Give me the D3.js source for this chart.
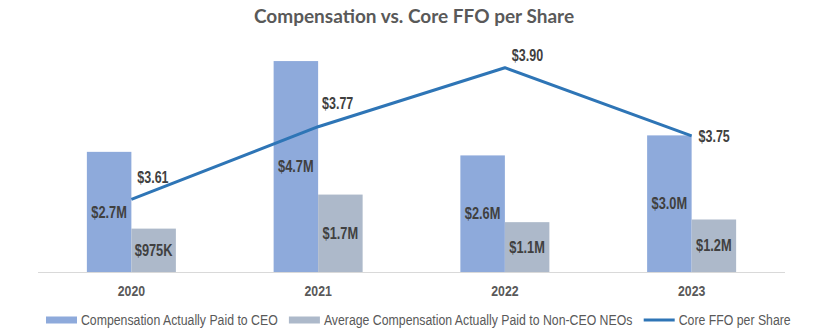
<!DOCTYPE html>
<html>
<head>
<meta charset="utf-8">
<script src="https://cdn.jsdelivr.net/npm/d3@7"></script>
<style>
  body { margin: 0; background: #fff; }
  svg { display: block; }
</style>
</head>
<body>
<svg id="chart" width="817" height="333"></svg>
<script>
// chart values
const years = ["2020", "2021", "2022", "2023"];
const ceoPay = [2.7, 4.74, 2.62, 3.07];          // $M
const ceoLabels = ["$2.7M", "$4.7M", "$2.6M", "$3.0M"];
const neoPay = [0.975, 1.74, 1.12, 1.18];        // $M
const neoLabels = ["$975K", "$1.7M", "$1.1M", "$1.2M"];
const coreFfo = [3.61, 3.77, 3.90, 3.75];
const ffoLabels = ["$3.61", "$3.77", "$3.90", "$3.75"];
const seriesNames = ["Compensation Actually Paid to CEO",
                     "Average Compensation Actually Paid to Non-CEO NEOs",
                     "Core FFO per Share"];

const svg = d3.select("#chart");
const font = "'Liberation Sans', Arial, sans-serif";
const ceoColor = "#8eaadb", neoColor = "#adb9ca", lineColor = "#2e75b6";
const textColor = "#595959", labelColor = "#404040";

// squeeze Liberation Sans horizontally into a narrow face, like the original
function narrow(sel, k = 0.82) {
    sel.each(function() {
        let t = d3.select(this);
        let x = +t.attr("x") || 0, y = +t.attr("y") || 0;
        t.attr("transform", "translate(" + x + "," + y + ") scale(" + k + ",1) translate(" + (-x) + "," + (-y) + ")");
    });
}

let left = 38, right = 785, bottom = 272;

// scales
let x0 = d3.scaleBand().domain(years).range([left, right])
           .paddingInner(0.5234).paddingOuter(0.2617);
let x1 = d3.scaleBand().domain(["ceo", "neo"]).range([0, x0.bandwidth()]);
let yBar = d3.scaleLinear().domain([0, 5]).range([bottom, bottom - 222.5]);
let yLine = d3.scaleLinear().domain([3.45, 3.95]).range([bottom, bottom - 227]);

// title
svg.append("text")
   .attr("x", 414).attr("y", 23)
   .attr("text-anchor", "middle")
   .style("font-family", "Lato, 'Open Sans', sans-serif")
   .style("font-weight", 700).style("font-size", "19px")
   .style("fill", textColor)
   .text("Compensation vs. Core FFO per Share");

// bars
let rows = years.map((y, i) => ({year: y, ceo: ceoPay[i], neo: neoPay[i],
                                 ceoLabel: ceoLabels[i], neoLabel: neoLabels[i]}));
let groups = svg.append("g").selectAll("g")
   .data(rows).enter().append("g")
   .attr("transform", d => "translate(" + x0(d.year) + ",0)");

["ceo", "neo"].forEach(k => {
    groups.append("rect")
          .attr("x", x1(k))
          .attr("width", x1.bandwidth())
          .attr("y", d => yBar(d[k]))
          .attr("height", d => bottom - yBar(d[k]))
          .attr("fill", k == "ceo" ? ceoColor : neoColor);
    groups.append("text")
          .attr("x", x1(k) + x1.bandwidth() / 2)
          .attr("y", d => (yBar(d[k]) + bottom) / 2)
          .attr("dy", "0.35em")
          .attr("text-anchor", "middle")
          .style("font-family", font).style("font-weight", 700).style("font-size", "16px")
          .style("fill", labelColor)
          .text(d => d[k + "Label"])
          .call(narrow, 0.8);
});

// x axis
let xAxis = svg.append("g")
   .attr("transform", "translate(0," + bottom + ")")
   .call(d3.axisBottom(x0).tickSize(0).tickPadding(13).tickSizeOuter(0));
xAxis.select(".domain").attr("stroke", "#d9d9d9").attr("d", "M" + left + ",0.5H" + right);
xAxis.selectAll("text")
     .style("font-family", font).style("font-weight", 700).style("font-size", "15px")
     .style("fill", textColor)
     .call(narrow);

// line
let cx = d => x0(d) + x0.bandwidth() / 2;
let pts = years.map((y, i) => [cx(y), yLine(coreFfo[i])]);
svg.append("path")
   .attr("d", d3.line()(pts))
   .attr("fill", "none")
   .attr("stroke", lineColor)
   .attr("stroke-width", 3)
   .attr("stroke-linejoin", "round");

// line labels (placed as in the original)
const ffoLabelPos = [[6, -22], [4, -23], [7, -12.5], [7, 1]];
svg.append("g").selectAll("text")
   .data(pts).enter().append("text")
   .attr("x", (p, i) => p[0] + ffoLabelPos[i][0])
   .attr("y", (p, i) => p[1] + ffoLabelPos[i][1])
   .attr("dy", "0.35em")
   .style("font-family", font).style("font-weight", 700).style("font-size", "16px")
   .style("fill", labelColor)
   .text((p, i) => ffoLabels[i])
   .call(narrow, 0.78);

// legend
let legend = svg.append("g");
let lx = 46, ly = 320;
seriesNames.forEach((name, i) => {
    if (i < 2) {
        legend.append("rect").attr("x", lx).attr("y", ly - 3.5)
              .attr("width", 31).attr("height", 7)
              .attr("fill", i == 0 ? ceoColor : neoColor);
    } else {
        legend.append("line").attr("x1", lx).attr("x2", lx + 31)
              .attr("y1", ly).attr("y2", ly)
              .attr("stroke", lineColor).attr("stroke-width", 3);
    }
    let t = legend.append("text")
          .attr("x", lx + 35).attr("y", ly).attr("dy", "0.35em")
          .style("font-family", font).style("font-size", "15px")
          .style("fill", textColor)
          .text(name);
    let w = t.node().getComputedTextLength() * 0.82;
    t.call(narrow);
    lx += 35 + w + 11;
});
</script>
</body>
</html>
